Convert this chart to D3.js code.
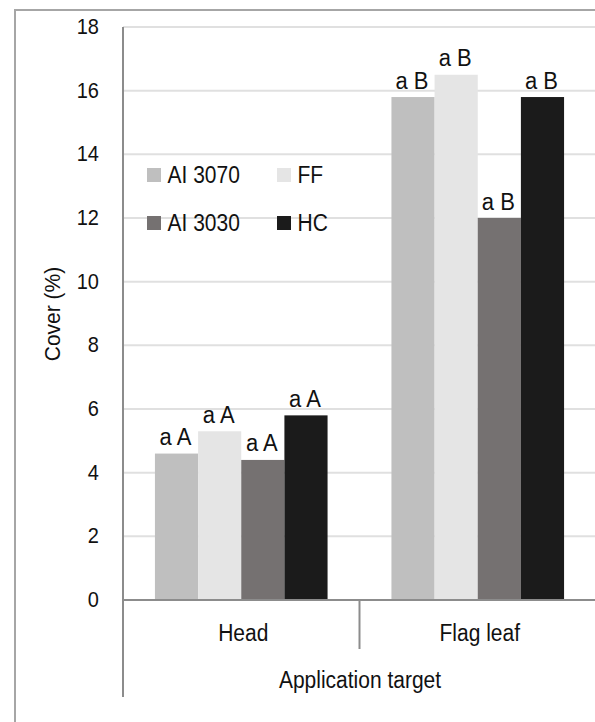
<!DOCTYPE html>
<html><head><meta charset="utf-8">
<script src="https://cdn.jsdelivr.net/npm/d3@7"></script>
<style>
html,body{margin:0;padding:0;background:#fff;}
svg{display:block;font-family:"Liberation Sans",Arial,sans-serif;}
</style></head>
<body>
<svg id="chart" width="595" height="722"></svg>
<script>
const categories = ["Head", "Flag leaf"];
const seriesNames = ["AI 3070", "FF", "AI 3030", "HC"];
const seriesColors = ["#bfbfbf", "#e5e5e5", "#757171", "#1b1b1b"];
const headValues = [4.6, 5.3, 4.4, 5.8];
const flagLeafValues = [15.8, 16.5, 12.0, 15.8];
const headLabels = ["a A", "a A", "a A", "a A"];
const flagLeafLabels = ["a B", "a B", "a B", "a B"];
const yTicks = [0, 2, 4, 6, 8, 10, 12, 14, 16, 18];
const yTitle = "Cover (%)";
const xTitle = "Application target";

const valuesByCat = [headValues, flagLeafValues];
const labelsByCat = [headLabels, flagLeafLabels];

const svg = d3.select("#chart");
const plotLeft = 123, plotRight = 596, plotTop = 27, plotBottom = 600;

const y = d3.scaleLinear().domain([0, 18]).range([plotBottom, plotTop]);
const x0 = d3.scaleBand().domain(categories).range([plotLeft, plotRight]).paddingInner(0).paddingOuter(0);
const x1 = d3.scaleBand().domain(seriesNames).range([0, x0.bandwidth()]).paddingInner(0).paddingOuter(0.74);
const color = d3.scaleOrdinal().domain(seriesNames).range(seriesColors);

function stretchText(sel, x, yy, sy) {
  return sel.attr("transform", `translate(${x},${yy}) scale(1,${sy})`);
}

// outer frame
svg.append("line").attr("x1", 15).attr("x2", 595).attr("y1", 10).attr("y2", 10)
  .attr("stroke", "#a6a6a6").attr("stroke-width", 2);
svg.append("line").attr("x1", 15).attr("x2", 15).attr("y1", 9).attr("y2", 722)
  .attr("stroke", "#a6a6a6").attr("stroke-width", 2);

// gridlines
svg.append("g").selectAll("line").data(yTicks.filter(d => d > 0)).join("line")
  .attr("x1", plotLeft).attr("x2", 595)
  .attr("y1", d => y(d)).attr("y2", d => y(d))
  .attr("stroke", "#e0e0e0").attr("stroke-width", 2);

// y tick labels
svg.append("g").selectAll("text").data(yTicks).join("text")
  .each(function(d){ stretchText(d3.select(this), 99, y(d) + 7, 1.1); })
  .attr("text-anchor", "end").attr("font-size", 20).attr("fill", "#111")
  .text(d => d);

// bars
const groups = svg.append("g").selectAll("g").data(categories).join("g")
  .attr("transform", d => `translate(${x0(d)},0)`);
groups.each(function(cat, ci) {
  const g = d3.select(this);
  const data = seriesNames.map((s, i) => ({s, v: valuesByCat[ci][i], lab: labelsByCat[ci][i]}));
  g.selectAll("rect").data(data).join("rect")
    .attr("x", d => x1(d.s)).attr("width", x1.bandwidth())
    .attr("y", d => y(d.v)).attr("height", d => y(0) - y(d.v))
    .attr("fill", d => color(d.s));
  g.selectAll("text").data(data).join("text")
    .each(function(d){ stretchText(d3.select(this), x1(d.s) + x1.bandwidth() / 2 - 1, y(d.v) - 8.5, 1.1); })
    .attr("text-anchor", "middle").attr("font-size", 22).attr("fill", "#111")
    .text(d => d.lab);
});

// axes lines
svg.append("line").attr("x1", plotLeft).attr("x2", plotLeft).attr("y1", plotTop).attr("y2", 697)
  .attr("stroke", "#8c8c8c").attr("stroke-width", 2);
svg.append("line").attr("x1", plotLeft).attr("x2", 595).attr("y1", plotBottom).attr("y2", plotBottom)
  .attr("stroke", "#8c8c8c").attr("stroke-width", 2);
svg.append("g").selectAll("line").data(categories.slice(1)).join("line")
  .attr("x1", d => x0(d)).attr("x2", d => x0(d)).attr("y1", plotBottom).attr("y2", 649)
  .attr("stroke", "#8c8c8c").attr("stroke-width", 2);

// category labels
svg.append("g").selectAll("text").data(categories).join("text")
  .each(function(d){ stretchText(d3.select(this), x0(d) + x0.bandwidth() / 2 + 2, 641, 1.1); })
  .attr("text-anchor", "middle").attr("font-size", 21).attr("fill", "#111")
  .text(d => d);

// x title
stretchText(svg.append("text"), 360, 688, 1.1)
  .attr("text-anchor", "middle").attr("font-size", 21).attr("fill", "#111")
  .text(xTitle);

// y title
svg.append("text").attr("transform", "translate(60,314) rotate(-90) scale(1,1.05)")
  .attr("text-anchor", "middle").attr("font-size", 21).attr("fill", "#111")
  .text(yTitle);

// legend
const legPos = [[147, 168], [277, 168], [147, 216], [277, 216]];
const leg = svg.append("g").selectAll("g").data(seriesNames).join("g")
  .attr("transform", (d, i) => `translate(${legPos[i][0]},${legPos[i][1]})`);
leg.append("rect").attr("width", 14).attr("height", 14).attr("fill", d => color(d));
leg.append("text").each(function(){ stretchText(d3.select(this), 20.5, 15, 1.1); })
  .attr("font-size", 21).attr("fill", "#111").text(d => d);
</script>
</body></html>
